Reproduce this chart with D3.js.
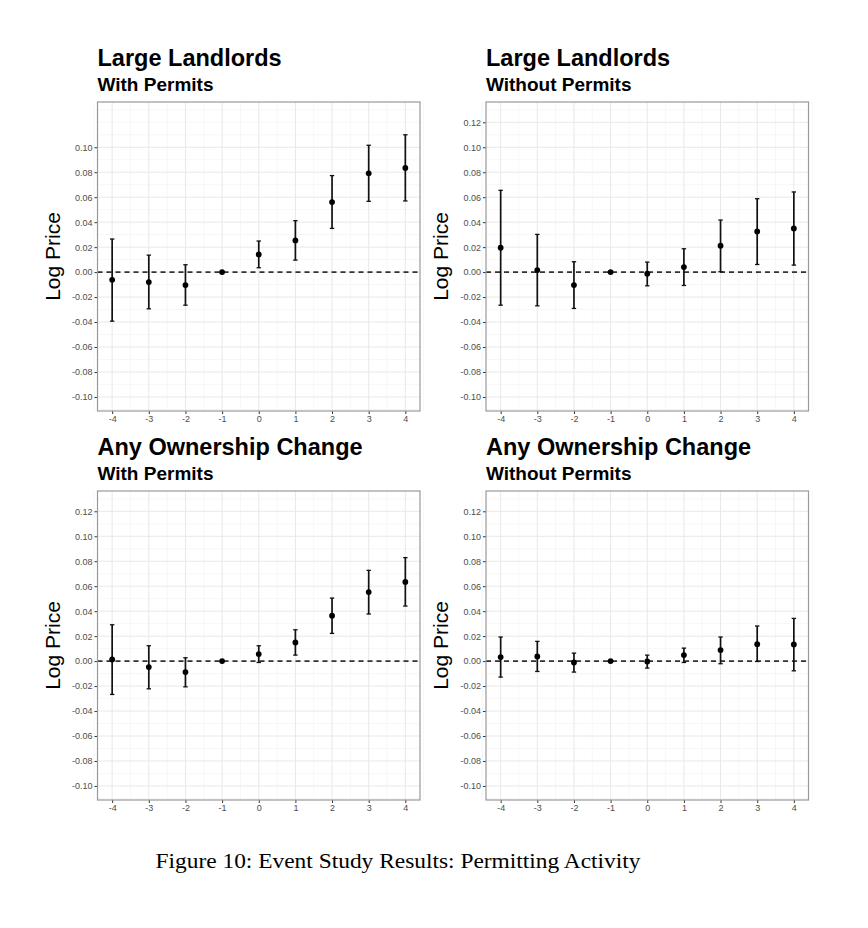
<!DOCTYPE html>
<html>
<head>
<meta charset="utf-8">
<script src="https://cdn.jsdelivr.net/npm/d3@7"></script>
<style>
  body { margin: 0; background: #fff; }
  svg text { font-family: "Liberation Sans", Arial, sans-serif; }
</style>
</head>
<body>
<div id="grafo"></div>
<script>
// periodos del estudio de eventos
var periodos = [-4, -3, -2, -1, 0, 1, 2, 3, 4];

// Large Landlords, With Permits
var llConEst = [-0.0062, -0.0080, -0.0104, 0, 0.0142, 0.0254, 0.0561, 0.0791, 0.0834];
var llConSup = [0.0265, 0.0136, 0.0059, 0, 0.0249, 0.0412, 0.0773, 0.1016, 0.1100];
var llConInf = [-0.0393, -0.0294, -0.0265, 0, 0.0035, 0.0096, 0.0350, 0.0567, 0.0570];

// Large Landlords, Without Permits
var llSinEst = [0.0195, 0.0016, -0.0104, 0, -0.0013, 0.0040, 0.0211, 0.0326, 0.0350];
var llSinSup = [0.0655, 0.0302, 0.0083, 0, 0.0080, 0.0187, 0.0417, 0.0588, 0.0642];
var llSinInf = [-0.0265, -0.0270, -0.0291, 0, -0.0110, -0.0107, 0.0003, 0.0061, 0.0056];

// Any Ownership Change, With Permits
var aoConEst = [0.0013, -0.0048, -0.0088, 0, 0.0056, 0.0150, 0.0364, 0.0553, 0.0634];
var aoConSup = [0.0291, 0.0123, 0.0027, 0, 0.0123, 0.0251, 0.0505, 0.0727, 0.0829];
var aoConInf = [-0.0267, -0.0222, -0.0206, 0, -0.0011, 0.0048, 0.0222, 0.0377, 0.0441];

// Any Ownership Change, Without Permits
var aoSinEst = [0.0032, 0.0037, -0.0011, 0, -0.0003, 0.0048, 0.0088, 0.0136, 0.0134];
var aoSinSup = [0.0193, 0.0158, 0.0064, 0, 0.0048, 0.0104, 0.0193, 0.0281, 0.0342];
var aoSinInf = [-0.0128, -0.0083, -0.0088, 0, -0.0056, -0.0011, -0.0021, -0.0003, -0.0078];

var ticksY = [-0.10, -0.08, -0.06, -0.04, -0.02, 0.00, 0.02, 0.04, 0.06, 0.08, 0.10, 0.12];
var ticksYSinTope = [-0.10, -0.08, -0.06, -0.04, -0.02, 0.00, 0.02, 0.04, 0.06, 0.08, 0.10];

var titulos = ["Large Landlords", "Large Landlords", "Any Ownership Change", "Any Ownership Change"];
var subtitulos = ["With Permits", "Without Permits", "With Permits", "Without Permits"];
var etiquetaY = "Log Price";
var pie = "Figure 10: Event Study Results: Permitting Activity";

var w = 868,
    h = 928;

var paneles = [
    {est: llConEst, sup: llConSup, inf: llConInf, ticks: ticksYSinTope, x0: 97.5, y0: 102},
    {est: llSinEst, sup: llSinSup, inf: llSinInf, ticks: ticksY, x0: 486, y0: 102},
    {est: aoConEst, sup: aoConSup, inf: aoConInf, ticks: ticksY, x0: 97.5, y0: 491},
    {est: aoSinEst, sup: aoSinSup, inf: aoSinInf, ticks: ticksY, x0: 486, y0: 491}
];
var anchoPanel = 322.5,
    altoPanel = 309;

var vis = d3.select("#grafo")
    .append("svg")
    .attr("width", w)
    .attr("height", h);

// guion normal en vez del signo menos de d3
var fmtY = function(d) { return d3.format(".2f")(d).replace("\u2212", "-"); };
var fmtX = function(d) { return String(d); };

paneles.forEach(function(p, k) {
    var g = vis.append("g").attr("transform", "translate(" + p.x0 + "," + p.y0 + ")");

    var x = d3.scaleLinear().domain([-4.4, 4.4]).range([0, anchoPanel]);
    var y = d3.scaleLinear().domain([-0.11125, 0.13625]).range([altoPanel, 0]);

    // rejilla menor
    var menoresY = d3.range(-0.11, 0.135, 0.01).filter(function(v) {
        return Math.abs(Math.round(v * 100) % 2) === 1;
    });
    if (k === 0) menoresY.push(0.12);
    g.selectAll(".menorY").data(menoresY).enter().append("line")
        .attr("x1", 0).attr("x2", anchoPanel)
        .attr("y1", function(d) { return y(d); })
        .attr("y2", function(d) { return y(d); })
        .attr("stroke", "#f2f2f2").attr("stroke-width", 0.6);
    var menoresX = d3.range(-4.5, 4.6, 1);
    g.selectAll(".menorX").data(menoresX).enter().append("line")
        .attr("y1", 0).attr("y2", altoPanel)
        .attr("x1", function(d) { return x(d); })
        .attr("x2", function(d) { return x(d); })
        .attr("stroke", "#f2f2f2").attr("stroke-width", 0.6);

    // rejilla mayor
    g.selectAll(".mayorY").data(p.ticks).enter().append("line")
        .attr("x1", 0).attr("x2", anchoPanel)
        .attr("y1", function(d) { return y(d); })
        .attr("y2", function(d) { return y(d); })
        .attr("stroke", "#e8e8e8").attr("stroke-width", 1);
    g.selectAll(".mayorX").data(periodos).enter().append("line")
        .attr("y1", 0).attr("y2", altoPanel)
        .attr("x1", function(d) { return x(d); })
        .attr("x2", function(d) { return x(d); })
        .attr("stroke", "#e8e8e8").attr("stroke-width", 1);

    // linea de referencia en cero
    g.append("line")
        .attr("x1", 0).attr("x2", anchoPanel)
        .attr("y1", y(0)).attr("y2", y(0))
        .attr("stroke", "#333").attr("stroke-width", 1.6)
        .attr("stroke-dasharray", "5,4");

    // barras de error
    var datos = periodos.map(function(t, i) {
        return {t: t, est: p.est[i], sup: p.sup[i], inf: p.inf[i]};
    });
    var barras = g.selectAll(".barra").data(datos).enter().append("g");
    barras.append("line")
        .attr("x1", function(d) { return x(d.t); })
        .attr("x2", function(d) { return x(d.t); })
        .attr("y1", function(d) { return y(d.sup); })
        .attr("y2", function(d) { return y(d.inf); })
        .attr("stroke", "#111").attr("stroke-width", 1.7);
    barras.append("line")
        .attr("x1", function(d) { return x(d.t) - 2.2; })
        .attr("x2", function(d) { return x(d.t) + 2.2; })
        .attr("y1", function(d) { return y(d.sup); })
        .attr("y2", function(d) { return y(d.sup); })
        .attr("stroke", "#111").attr("stroke-width", 1.3);
    barras.append("line")
        .attr("x1", function(d) { return x(d.t) - 2.2; })
        .attr("x2", function(d) { return x(d.t) + 2.2; })
        .attr("y1", function(d) { return y(d.inf); })
        .attr("y2", function(d) { return y(d.inf); })
        .attr("stroke", "#111").attr("stroke-width", 1.3);
    barras.append("circle")
        .attr("cx", function(d) { return x(d.t); })
        .attr("cy", function(d) { return y(d.est); })
        .attr("r", 2.9)
        .attr("fill", "#000");

    // ejes
    var ejeY = g.append("g")
        .call(d3.axisLeft(y).tickValues(p.ticks).tickFormat(fmtY).tickSize(3).tickPadding(2));
    ejeY.select(".domain").remove();
    ejeY.selectAll("line").attr("stroke", "#333").attr("stroke-width", 1);
    ejeY.selectAll("text").attr("fill", "#4d4d4d").style("font-size", "9px");

    var ejeX = g.append("g")
        .attr("transform", "translate(0," + altoPanel + ")")
        .call(d3.axisBottom(x).tickValues(periodos).tickFormat(fmtX).tickSize(3).tickPadding(2));
    ejeX.select(".domain").remove();
    ejeX.selectAll("line").attr("stroke", "#333").attr("stroke-width", 1);
    ejeX.selectAll("text").attr("fill", "#4d4d4d").style("font-size", "9px");

    // borde del panel
    g.append("rect")
        .attr("x", 0).attr("y", 0)
        .attr("width", anchoPanel).attr("height", altoPanel)
        .attr("fill", "none").attr("stroke", "#999").attr("stroke-width", 1.2);

    // titulos
    g.append("text")
        .attr("x", 0).attr("y", -36)
        .style("font-size", "23.5px").style("font-weight", "bold")
        .attr("fill", "#000")
        .text(titulos[k]);
    g.append("text")
        .attr("x", 0).attr("y", -11)
        .style("font-size", "19px").style("font-weight", "bold")
        .attr("fill", "#000")
        .text(subtitulos[k]);

    g.append("text")
        .attr("transform", "translate(-38," + (altoPanel / 2) + ") rotate(-90)")
        .attr("text-anchor", "middle")
        .style("font-size", "21px")
        .attr("fill", "#000")
        .text(etiquetaY);
});

vis.append("text")
    .attr("x", 398).attr("y", 868)
    .attr("text-anchor", "middle")
    .attr("textLength", 485)
    .attr("lengthAdjust", "spacingAndGlyphs")
    .style("font-family", "'Liberation Serif', 'DejaVu Serif', serif")
    .style("font-size", "21px")
    .attr("fill", "#000")
    .text(pie);
</script>
</body>
</html>
